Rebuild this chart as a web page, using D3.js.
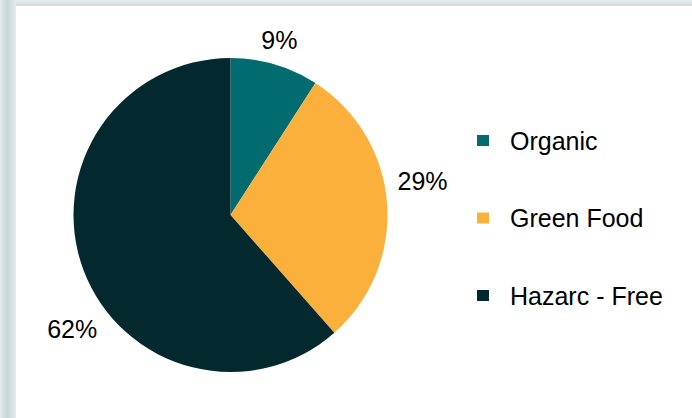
<!DOCTYPE html>
<html>
<head>
<meta charset="utf-8">
<script src="https://cdn.jsdelivr.net/npm/d3@7"></script>
<style>
  html, body { margin: 0; padding: 0; background: #fff; }
  svg { display: block; font-family: "Liberation Sans", Arial, sans-serif; }
</style>
</head>
<body>
<div id="chart"></div>
<script>
(function() {
  "use strict";

  var categories = ["Organic", "Green Food", "Hazarc - Free"];
  var shares = [9.1, 29.4, 61.5];
  var colors = ["#016b6f", "#fcb03c", "#03292f"];

  var width = 692, height = 418;
  var cx = 230.5, cy = 215, radius = 157;

  var svg = d3.select("#chart").append("svg")
    .attr("width", width)
    .attr("height", height);

  // frame strips on the left and top, like the slide background
  var defs = svg.append("defs");
  var gLeft = defs.append("linearGradient").attr("id", "gl")
    .attr("x1", "0").attr("x2", "1").attr("y1", "0").attr("y2", "0");
  gLeft.append("stop").attr("offset", "0").attr("stop-color", "#e2ebed");
  gLeft.append("stop").attr("offset", "0.45").attr("stop-color", "#c8d5d8");
  gLeft.append("stop").attr("offset", "1").attr("stop-color", "#e4eced");
  var gTop = defs.append("linearGradient").attr("id", "gt")
    .attr("x1", "0").attr("x2", "0").attr("y1", "0").attr("y2", "1");
  gTop.append("stop").attr("offset", "0").attr("stop-color", "#e6eef0");
  gTop.append("stop").attr("offset", "1").attr("stop-color", "#cdd8db");

  svg.append("rect").attr("x", 0).attr("y", 0).attr("width", width).attr("height", 6)
    .attr("fill", "url(#gt)");
  svg.append("rect").attr("x", 0).attr("y", 0).attr("width", 16).attr("height", height)
    .attr("fill", "url(#gl)");

  var color = d3.scaleOrdinal().domain(categories).range(colors);
  var data = categories.map(function(c, i) { return { label: c, value: shares[i] }; });
  var total = d3.sum(shares);

  var pie = d3.pie().value(function(d) { return d.value; }).sort(null);
  var arc = d3.arc().innerRadius(0).outerRadius(radius);

  var g = svg.append("g").attr("transform", "translate(" + cx + "," + cy + ")");

  g.selectAll("path")
    .data(pie(data))
    .enter()
    .append("path")
    .attr("d", arc)
    .attr("fill", function(d) { return color(d.data.label); });

  // label placement: outside the edge, with small angle/radius nudges
  var nudge = {
    "Organic": { da: -0.7, r: 181 },
    "Green Food": { da: -5.7, r: 195 },
    "Hazarc - Free": { da: -15, r: 195 }
  };

  g.selectAll("text.pct")
    .data(pie(data))
    .enter()
    .append("text")
    .attr("class", "pct")
    .attr("text-anchor", "middle")
    .attr("dy", "0.35em")
    .attr("font-size", 25)
    .attr("fill", "#000")
    .attr("transform", function(d) {
      var n = nudge[d.data.label];
      var a = (d.startAngle + d.endAngle) / 2 + n.da * Math.PI / 180;
      return "translate(" + (n.r * Math.sin(a)) + "," + (-n.r * Math.cos(a)) + ")";
    })
    .text(function(d) { return Math.round(100 * d.data.value / total) + "%"; });

  // legend
  var legendY = d3.scalePoint().domain(categories).range([141, 296]);
  var legend = svg.append("g").selectAll("g")
    .data(categories)
    .enter()
    .append("g")
    .attr("transform", function(d) { return "translate(477," + legendY(d) + ")"; });

  legend.append("rect")
    .attr("x", 0).attr("y", -6)
    .attr("width", 12).attr("height", 11)
    .attr("fill", function(d) { return color(d); });

  legend.append("text")
    .attr("x", 33)
    .attr("dy", "0.35em")
    .attr("font-size", 25)
    .attr("fill", "#000")
    .text(function(d) { return d; });
})();
</script>
</body>
</html>
